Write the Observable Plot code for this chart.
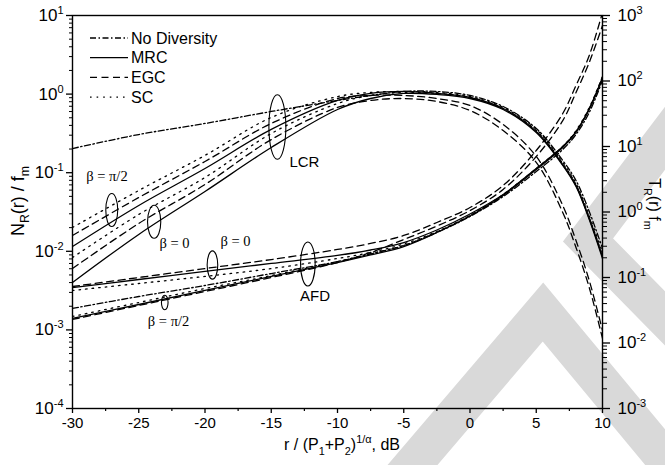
<!DOCTYPE html>
<html>
<head>
<meta charset="utf-8">
<script src="https://cdn.jsdelivr.net/npm/d3@7"></script>
<script src="https://cdn.jsdelivr.net/npm/@observablehq/plot@0.6"></script>
<style>
  html, body { margin: 0; padding: 0; background: #fff; }
  #chart svg { display: block; }
</style>
</head>
<body>
<div id="chart"></div>
<script>
// Normalised threshold r/(P1+P2)^(1/alpha) in dB
const xs = [-30, -25, -20, -15, -10, -7.5, -5, -2.5, 0, 2.5, 5, 7, 8, 9, 10];

// Level crossing rate N_R(r)/f_m (left axis)
const lcrNoDiv        = [0.203, 0.306, 0.423, 0.601, 0.83, 0.96, 1.08, 1.08, 0.96, 0.695, 0.365, 0.143, 0.0796, 0.0321, 0.0109];
const lcrMrcBeta0     = [0.00401, 0.0164, 0.0577, 0.209, 0.637, 0.879, 1.02, 0.99, 0.879, 0.637, 0.324, 0.124, 0.0667, 0.0254, 0.0081];
const lcrMrcBetaPi2   = [0.0115, 0.0383, 0.113, 0.355, 0.83, 1.02, 1.08, 1.02, 0.905, 0.656, 0.334, 0.127, 0.0687, 0.0261, 0.0086];
const lcrEgcBeta0     = [0.00604, 0.0226, 0.0708, 0.264, 0.676, 0.83, 0.879, 0.805, 0.618, 0.344, 0.135, 0.0312, 0.0112, 0.00346, 0.000778];
const lcrEgcBetaPi2   = [0.0159, 0.0483, 0.139, 0.423, 0.879, 0.96, 0.96, 0.879, 0.716, 0.410, 0.161, 0.0383, 0.0137, 0.00425, 0.000982];
const lcrScBeta0      = [0.00834, 0.0294, 0.0869, 0.315, 0.759, 0.96, 1.05, 1.02, 0.905, 0.656, 0.344, 0.131, 0.0708, 0.0269, 0.00885];
const lcrScBetaPi2    = [0.0201, 0.0594, 0.166, 0.504, 0.93, 1.05, 1.08, 1.05, 0.93, 0.676, 0.355, 0.135, 0.0729, 0.0285, 0.00966];

// Average fade duration T_R(r) f_m (right axis)
const afdNoDiv        = [0.0337, 0.0513, 0.0755, 0.115, 0.175, 0.229, 0.308, 0.486, 0.854, 1.72, 4.15, 9.00, 15.3, 33.0, 102];
const afdMrcBeta0     = [0.0703, 0.0932, 0.124, 0.164, 0.217, 0.263, 0.342, 0.531, 0.932, 1.85, 4.61, 10, 16.9, 38.0, 113];
const afdMrcBetaPi2   = [0.0237, 0.0387, 0.0634, 0.104, 0.169, 0.221, 0.297, 0.486, 0.869, 1.79, 4.46, 9.66, 16.4, 36.7, 109];
const afdEgcBeta0     = [0.0729, 0.100, 0.137, 0.188, 0.268, 0.331, 0.438, 0.691, 1.17, 2.54, 8.69, 31.9, 85.4, 245, 1111];
const afdEgcBetaPi2   = [0.0229, 0.0374, 0.0611, 0.100, 0.169, 0.241, 0.380, 0.611, 1.05, 2.21, 7.03, 24.9, 66.7, 192, 703];
const afdScBeta0      = [0.0634, 0.0810, 0.104, 0.137, 0.195, 0.241, 0.325, 0.504, 0.885, 1.85, 4.61, 10, 17.5, 39.4, 117];
const afdScBetaPi2    = [0.0254, 0.0415, 0.0679, 0.107, 0.175, 0.232, 0.308, 0.496, 0.885, 1.82, 4.61, 10, 16.9, 38.0, 117];

// Axis ticks
const xMajor = [-30, -25, -20, -15, -10, -5, 0, 5, 10];
const xMinor = [-27.5, -22.5, -17.5, -12.5, -7.5, -2.5, 2.5, 7.5];
const leftExp = [-4, -3, -2, -1, 0, 1];
const rightExp = [-3, -2, -1, 0, 1, 2, 3];

// Schemes and legend
const schemes = ["No Diversity", "MRC", "EGC", "SC"];
const dashOf = {"No Diversity": "6,2.5,1.5,2.5", "MRC": null, "EGC": "7,4.5", "SC": "1.6,5"};

// Annotations (data units; half-extents in dB and decades)
const ellipses = [
  {x: -27.0, y: 0.033,  a: 0.45, b: 0.21},
  {x: -23.8, y: 0.0234, a: 0.50, b: 0.21},
  {x: -14.5, y: 0.376,  a: 0.64, b: 0.41},
  {x: -19.4, y: 0.0066, a: 0.40, b: 0.18},
  {x: -12.2, y: 0.0068, a: 0.55, b: 0.28},
  {x: -23.0, y: 0.0022, a: 0.25, b: 0.093}
];
const sansLabels = [
  {x: -12.5, y: 0.135,   text: "LCR"},
  {x: -11.7, y: 0.00266, text: "AFD"}
];
const betaLabels = [
  {x: -27.4,  y: 0.0895,  text: "β = π/2"},
  {x: -22.3,  y: 0.0126,  text: "β = 0"},
  {x: -17.7,  y: 0.0133,  text: "β = 0"},
  {x: -22.75, y: 0.00128, text: "β = π/2"}
];

// The right axis spans 10^-3..10^3 over the same height as 10^-4..10^1 on the left
const toLeft = r => Math.pow(10, 5 * (Math.log10(r) + 3) / 6 - 4);

const series = [
  {id: "lcr-nd",  scheme: "No Diversity", vals: lcrNoDiv,      right: false},
  {id: "lcr-m0",  scheme: "MRC", vals: lcrMrcBeta0,   right: false},
  {id: "lcr-m2",  scheme: "MRC", vals: lcrMrcBetaPi2, right: false},
  {id: "lcr-e0",  scheme: "EGC", vals: lcrEgcBeta0,   right: false},
  {id: "lcr-e2",  scheme: "EGC", vals: lcrEgcBetaPi2, right: false},
  {id: "lcr-s0",  scheme: "SC",  vals: lcrScBeta0,    right: false},
  {id: "lcr-s2",  scheme: "SC",  vals: lcrScBetaPi2,  right: false},
  {id: "afd-nd",  scheme: "No Diversity", vals: afdNoDiv,      right: true},
  {id: "afd-m0",  scheme: "MRC", vals: afdMrcBeta0,   right: true},
  {id: "afd-m2",  scheme: "MRC", vals: afdMrcBetaPi2, right: true},
  {id: "afd-e0",  scheme: "EGC", vals: afdEgcBeta0,   right: true},
  {id: "afd-e2",  scheme: "EGC", vals: afdEgcBetaPi2, right: true},
  {id: "afd-s0",  scheme: "SC",  vals: afdScBeta0,    right: true},
  {id: "afd-s2",  scheme: "SC",  vals: afdScBetaPi2,  right: true}
];

const rows = series.flatMap(s => s.vals.map((v, i) => ({
  id: s.id, scheme: s.scheme, x: xs[i], y: s.right ? toLeft(v) : v
})));

const leftMinor = leftExp.slice(0, -1).flatMap(k => d3.range(2, 10).map(m => m * 10 ** k));
const rightMinor = rightExp.slice(0, -1).flatMap(k => d3.range(2, 10).map(m => toLeft(m * 10 ** k)));
const rightLabels = rightExp.map(k => ({y: toLeft(10 ** k), label: "10|" + k}));

const font = "'Liberation Sans', Arial, sans-serif";
const serif = "'Liberation Serif', 'Times New Roman', serif";

const chart = Plot.plot({
  width: 665,
  height: 465,
  marginLeft: 72,
  marginRight: 63,
  marginTop: 15,
  marginBottom: 57,
  style: {fontFamily: font, background: "white", color: "black", overflow: "visible"},
  x: {domain: [-30, 10]},
  y: {type: "log", domain: [1e-4, 10]},
  marks: [
    ...schemes.map(sc => Plot.line(rows.filter(d => d.scheme === sc), {
      x: "x", y: "y", z: "id", curve: "catmull-rom", clip: true,
      stroke: "black", strokeWidth: 1.3, strokeDasharray: dashOf[sc]
    })),
    Plot.text(sansLabels, {x: "x", y: "y", text: "text", fontSize: 15, fontFamily: font, fill: "black"}),
    Plot.text(betaLabels, {x: "x", y: "y", text: "text", fontSize: 14.5, fontFamily: serif, fill: "black"}),
    Plot.frame({stroke: "black", strokeWidth: 1.4}),
    Plot.axisX(xMajor, {tickSize: 5, tickPadding: 4, fontSize: 15, label: null, tickFormat: d => String(d), strokeWidth: 1.3}),
    Plot.axisX(xMinor, {tickSize: 3, tickFormat: () => "", label: null, strokeWidth: 1.2}),
    Plot.axisY(leftExp.map(k => 10 ** k), {anchor: "left", tickSize: 6, tickPadding: 3, fontSize: 17, label: null, tickFormat: d => "10|" + Math.round(Math.log10(d)), strokeWidth: 1.3}),
    Plot.axisY(leftMinor, {anchor: "left", tickSize: 3, tickFormat: () => "", label: null, strokeWidth: 1}),
    Plot.axisY(rightExp.map(k => toLeft(10 ** k)), {anchor: "right", tickSize: 7, tickFormat: () => "", label: null, strokeWidth: 1.3}),
    Plot.axisY(rightMinor, {anchor: "right", tickSize: 4, tickFormat: () => "", label: null, strokeWidth: 1}),
    Plot.text(rightLabels, {y: "y", text: "label", frameAnchor: "right", dx: 15, textAnchor: "start", fontSize: 17, fill: "black"})
  ]
});

const svg = d3.select(chart);
const X = chart.scale("x"), Y = chart.scale("y");

// Powers of ten with raised exponents
svg.selectAll("text").each(function () {
  const s = this.textContent;
  if (!s.includes("|")) return;
  const [base, exp] = s.split("|");
  const t = d3.select(this);
  t.text(null);
  t.append("tspan").text(base);
  t.append("tspan").attr("dy", -7).attr("font-size", 11).text(exp);
});

// Faint diagonal bands behind the chart
const bands = [
  [[398, 482], [543, 312], [684, 482]],
  [[700, 92], [588, 240], [700, 354]]
];
const wm = document.createElementNS("http://www.w3.org/2000/svg", "g");
d3.select(wm).attr("fill", "none").attr("stroke", "#d9d9d9")
  .attr("stroke-width", 38).attr("stroke-linejoin", "miter");
bands.forEach(p => d3.select(wm).append("polyline").attr("points", p.map(q => q.join(",")).join(" ")));
chart.insertBefore(wm, chart.querySelector(":scope > g"));

// Ellipses grouping curve families
const eg = svg.append("g").attr("fill", "none").attr("stroke", "black").attr("stroke-width", 1.1);
ellipses.forEach(e => {
  const cx = X.apply(e.x), cy = Y.apply(e.y);
  eg.append("ellipse").attr("cx", cx).attr("cy", cy)
    .attr("rx", Math.abs(X.apply(e.x + e.a) - cx))
    .attr("ry", Math.abs(Y.apply(e.y * 10 ** e.b) - cy));
});

// Legend in the upper-left corner of the frame
const lg = svg.append("g").attr("font-family", font).attr("font-size", 16).attr("text-anchor", "start");
const lx0 = 72 + 18, ly0 = 15 + 23, lstep = 19.7;
schemes.forEach((sc, i) => {
  const y = ly0 + i * lstep;
  lg.append("line").attr("x1", lx0).attr("x2", lx0 + 38).attr("y1", y).attr("y2", y)
    .attr("stroke", "black").attr("stroke-width", 1.3).attr("stroke-dasharray", dashOf[sc]);
  lg.append("text").attr("x", lx0 + 41).attr("y", y).attr("dy", "0.36em").attr("fill", "black").text(sc);
});

// Rich text helper for titles with sub/superscripts
function rich(g, parts, size) {
  const t = g.append("text").attr("text-anchor", "middle").attr("font-family", font)
    .attr("font-size", size).attr("fill", "black");
  let shift = 0;
  parts.forEach(([s, kind]) => {
    const target = kind === "sub" ? 5 : kind === "sup" ? -7 : 0;
    t.append("tspan").attr("dy", target - shift).attr("font-size", kind ? size * 0.68 : size).text(s);
    shift = target;
  });
  return t;
}

rich(svg.append("g").attr("transform", "translate(342,450)"),
  [["r / (P"], ["1", "sub"], ["+P"], ["2", "sub"], [")"], ["1/α", "sup"], [", dB"]], 16);
rich(svg.append("g").attr("transform", "translate(24,201) rotate(-90)"),
  [["N"], ["R", "sub"], ["(r) / f"], ["m", "sub"]], 18);
rich(svg.append("g").attr("transform", "translate(649,204) rotate(90)"),
  [["T"], ["R", "sub"], ["(r) f"], ["m", "sub"]], 16);

document.getElementById("chart").appendChild(chart);
</script>
</body>
</html>
